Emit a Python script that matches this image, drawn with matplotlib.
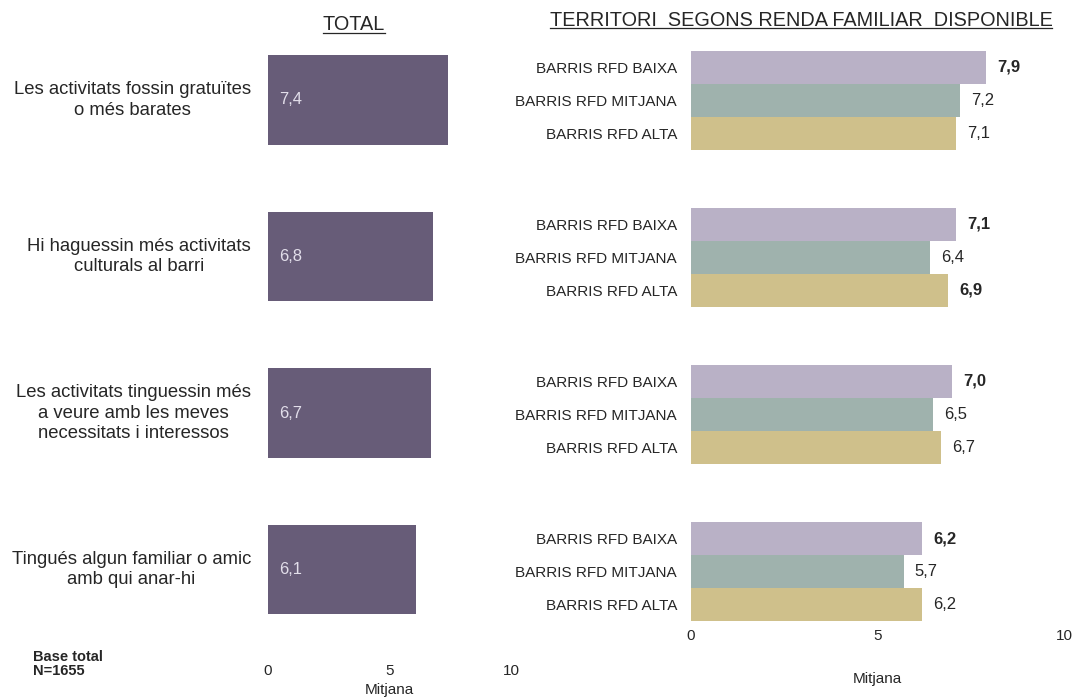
import matplotlib.pyplot as plt
import matplotlib.transforms as mtransforms
from matplotlib.lines import Line2D

plt.rcParams['font.family'] = ['Liberation Sans', 'DejaVu Sans']

# data
categories = [
    "Les activitats fossin gratuïtes\no més barates",
    "Hi haguessin més activitats\nculturals al barri",
    "Les activitats tinguessin més\na veure amb les meves\nnecessitats i interessos",
    "Tingués algun familiar o amic\namb qui anar-hi",
]
total_values = [7.4, 6.8, 6.7, 6.1]
groups = ["BARRIS RFD BAIXA", "BARRIS RFD MITJANA", "BARRIS RFD ALTA"]
baixa = [7.9, 7.1, 7.0, 6.2]
mitjana = [7.2, 6.4, 6.5, 5.7]
alta = [7.1, 6.9, 6.7, 6.2]
baixa_bold = [True, True, True, True]
mitjana_bold = [False, False, False, False]
alta_bold = [False, True, False, False]

col_total = '#675c78'
col_groups = ['#b9b1c6', '#9fb2ad', '#cfc08b']
txt = '#262626'

W, H = 1073, 699
fig = plt.figure(figsize=(W / 100, H / 100), dpi=100)


def px_axes(x0, y0, x1, y1):
    # pixel box (top-left origin) -> figure axes
    return fig.add_axes([x0 / W, 1 - y1 / H, (x1 - x0) / W, (y1 - y0) / H])


# ---- left panel: TOTAL
axl = px_axes(268, 21.75, 511, 647.75)
pos = list(range(len(categories)))
axl.barh(pos, total_values, height=0.575, color=col_total)
axl.set_xlim(0, 10)
axl.set_ylim(3.5, -0.5)
axl.set_xticks([0, 5, 10])
axl.set_xticklabels(['0', '5', '10'])
axl.set_yticks([])
axl.tick_params(axis='x', length=0, pad=12, labelsize=11, colors=txt)
for s in axl.spines.values():
    s.set_visible(False)
axl.set_xlabel('Mitjana', fontsize=11, color=txt, labelpad=3)
for p, v in zip(pos, total_values):
    axl.annotate(f'{v:.1f}'.replace('.', ','), (0, p), xytext=(8, 0),
                 textcoords='offset points', va='center', ha='left',
                 fontsize=12, color='#e2deea')

trans = mtransforms.blended_transform_factory(fig.transFigure, axl.transData)
for p, c in zip(pos, categories):
    fig.text(251 / W, p, c, transform=trans, ha='right', va='center',
             multialignment='center', fontsize=13.3, color=txt, linespacing=1.25)

# ---- right panel: RFD
axr = px_axes(691, 21.75, 1064, 621.8)
bh = 0.21
series = [baixa, mitjana, alta]
bolds = [baixa_bold, mitjana_bold, alta_bold]
ticks, labels = [], []
for k, (vals, bl) in enumerate(zip(series, bolds)):
    ys = [p + (k - 1) * bh for p in pos]
    axr.barh(ys, vals, height=bh, color=col_groups[k])
    for y, v, b in zip(ys, vals, bl):
        axr.annotate(f'{v:.1f}'.replace('.', ','), (v, y), xytext=(8, 0),
                     textcoords='offset points', va='center', ha='left',
                     fontsize=12, color=txt,
                     fontweight='bold' if b else 'normal')
        ticks.append(y)
        labels.append(groups[k])
axr.set_xlim(0, 10)
axr.set_ylim(3.32, -0.5)
axr.set_xticks([0, 5, 10])
axr.set_xticklabels(['0', '5', '10'])
axr.set_yticks(ticks)
axr.set_yticklabels(labels)
axr.tick_params(axis='x', length=0, pad=5, labelsize=11, colors=txt)
axr.tick_params(axis='y', length=0, pad=10, labelsize=11, colors=txt)
for s in axr.spines.values():
    s.set_visible(False)
axr.set_xlabel('Mitjana', fontsize=11, color=txt, labelpad=21)

# ---- titles (underlined)
t1 = fig.text(354 / W, 1 - 25 / H, 'TOTAL', ha='center', va='center',
              fontsize=14.3, color=txt)
t2 = fig.text(801 / W, 1 - 20 / H, 'TERRITORI  SEGONS RENDA FAMILIAR  DISPONIBLE',
              ha='center', va='center', fontsize=14.3, color=txt)
fig.text(33 / W, 1 - 664 / H, 'Base total\nN=1655', ha='left', va='center',
         fontsize=10.5, fontweight='bold', color=txt, linespacing=1.05)

fig.canvas.draw()
r = fig.canvas.get_renderer()
for t in (t1, t2):
    bb = t.get_window_extent(r).transformed(fig.transFigure.inverted())
    fig.add_artist(Line2D([bb.x0, bb.x1], [bb.y0 + 0.002, bb.y0 + 0.002],
                          transform=fig.transFigure, color=txt, lw=0.9))

fig.savefig('out.png', dpi=100, facecolor='white')
